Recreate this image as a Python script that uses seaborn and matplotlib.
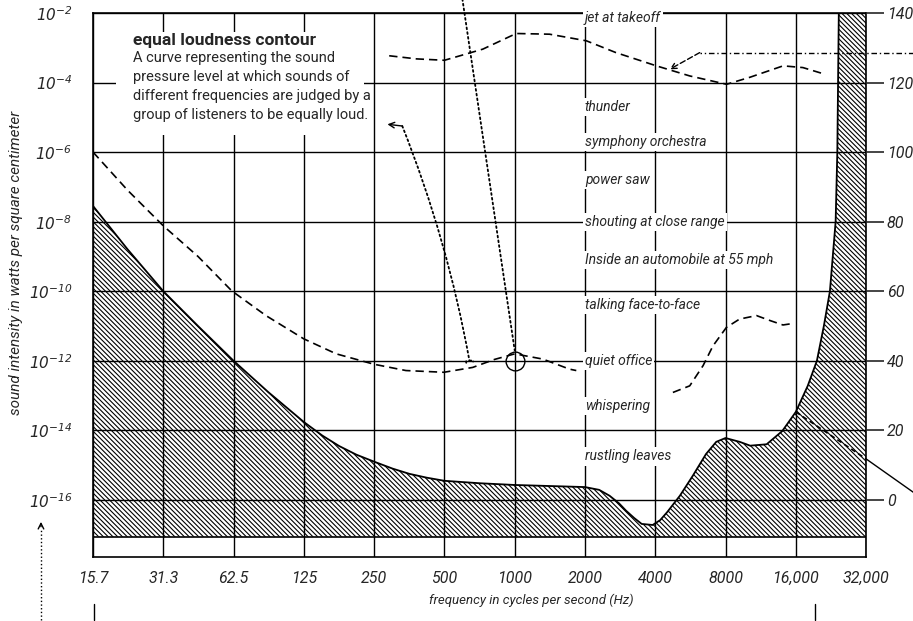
import numpy as np
import pandas as pd
import seaborn as sns
import matplotlib.pyplot as plt
from matplotlib.patches import Rectangle

# octave grid (Hz) and printed labels
octaves = [15.625, 31.25, 62.5, 125, 250, 500, 1000, 2000, 4000, 8000, 16000, 32000]
octave_labels = ["15.7", "31.3", "62.5", "125", "250", "500", "1000", "2000",
                 "4000", "8000", "16,000", "32,000"]

# sound pressure level (dB) on the right, intensity (W/cm2) on the left
db_ticks = [0, 20, 40, 60, 80, 100, 120, 140]
intensity_labels = [r"$10^{-16}$", r"$10^{-14}$", r"$10^{-12}$", r"$10^{-10}$",
                    r"$10^{-8}$", r"$10^{-6}$", r"$10^{-4}$", r"$10^{-2}$"]
floor_db = -10.6

# threshold of hearing / pain boundary (hatched region)
thr_freq = [15.625, 22, 31.25, 44, 62.5, 88, 125, 150, 177, 210, 250, 300, 354,
            420, 500, 707, 1000, 1414, 2000, 2300, 2550, 2800, 3000, 3250, 3500,
            3900, 4200, 4500, 5100, 5800, 6600, 7300, 8000, 9200, 10200, 12000,
            14000, 16000, 18000, 19700, 21100, 22400, 23700, 24100, 24500, 32000]
thr_db = [84.5, 72, 60, 50, 40, 31, 22.4, 18.5, 15.5, 13, 11, 9, 7.5,
          6.4, 5.5, 4.8, 4.3, 4.0, 3.7, 2.9, 1.2, -1, -3.1, -5.2, -6.9,
          -7.2, -5.8, -3.5, 1.2, 7, 13.2, 16.7, 17.8, 16.7, 15.6, 16,
          19.8, 25.3, 32.8, 40, 50, 60, 80, 100, 145, 145]

# 40 phon equal loudness contour (two dashed pieces)
c40a_freq = [15.625, 22, 31.25, 44, 61.4, 86, 125, 172, 250, 342, 497, 661,
             820, 1000, 1319, 1718, 1836]
c40a_db = [100, 89, 78.8, 70, 60.1, 53, 46.3, 42, 39, 37.2, 36.7, 38.1,
           40.4, 42, 40.5, 37.6, 37.2]
c40b_freq = [4760, 5620, 6410, 7070, 8070, 9190, 10860, 12500, 14100, 15800]
c40b_db = [30.9, 32.8, 38.6, 44.3, 49.6, 52, 53, 51.5, 50.3, 50.8]

# 120 phon contour
c120_freq = [290, 380, 500, 730, 1015, 1410, 2028, 2716, 4045, 5620, 8080,
             10160, 14120, 17170, 21280]
c120_db = [127.7, 126.8, 126.4, 129.6, 134.1, 133.9, 132, 128.6, 124.8, 121.9,
           119.5, 121.5, 124.8, 124.3, 122.4]

# everyday sounds, written down the 2000 Hz line
sound_names = ["jet at takeoff", "thunder", "symphony orchestra", "power saw",
               "shouting at close range", "Inside an automobile at 55 mph",
               "talking face-to-face", "quiet office", "whispering",
               "rustling leaves"]
sound_db = [138.5, 113, 103, 92, 80, 69, 56, 40, 27, 12.5]

sns.set_style("white")
plt.rcParams["font.family"] = ["Roboto", "DejaVu Sans"]
plt.rcParams["font.style"] = "italic"
plt.rcParams["mathtext.default"] = "it"
plt.rcParams["hatch.linewidth"] = 0.8

fig = plt.figure(figsize=(9.13, 6.21), dpi=100)
ax = fig.add_axes([0.1019, 0.1031, 0.8467, 0.876])
ax.set_xscale("log", base=2)

ax.fill_between(thr_freq, thr_db, floor_db, facecolor="white",
                edgecolor="black", hatch="\\\\\\\\\\\\\\", linewidth=0, zorder=1)
sns.lineplot(x=thr_freq, y=thr_db, ax=ax, color="black", lw=1.3,
             estimator=None, sort=False, zorder=3)
for fx, fy in [(c40a_freq, c40a_db), (c40b_freq, c40b_db), (c120_freq, c120_db)]:
    sns.lineplot(x=fx, y=fy, ax=ax, color="black", lw=1.2, linestyle=(0, (5, 3)),
                 estimator=None, sort=False, zorder=3)

ax.set_xlim(15.625, 32000)
ax.set_ylim(-16.4, 140)
ax.set_xticks(octaves)
ax.set_xticklabels(octave_labels, fontsize=11.5)
ax.minorticks_off()
ax.set_yticks(db_ticks)
ax.set_yticklabels(intensity_labels, fontsize=11)
ax.tick_params(axis="both", length=0)
ax.tick_params(axis="y", pad=15)
ax.tick_params(axis="x", pad=10)
ax.grid(True, color="black", lw=1)
ax.set_axisbelow(False)
ax.axhline(floor_db, color="black", lw=1.2, zorder=2.5)
for s in ax.spines.values():
    s.set_color("black")
    s.set_linewidth(1.2)

ax2 = ax.twinx()
ax2.set_ylim(ax.get_ylim())
ax2.set_yticks(db_ticks)
ax2.set_yticklabels([str(v) for v in db_ticks], fontsize=11.5)
ax2.tick_params(axis="y", direction="out", length=13, width=1.2, pad=2)
for s in ax2.spines.values():
    s.set_visible(False)

# description box
ax.add_patch(Rectangle((0.03, 0.775), 0.32, 0.19, transform=ax.transAxes,
                       facecolor="white", edgecolor="none", zorder=2.6))
ax.text(0.0517, 0.950, "equal loudness contour", transform=ax.transAxes,
        fontsize=12.5, fontweight="bold", fontstyle="normal", va="center", zorder=4)
ax.text(0.0517, 0.930, "A curve representing the sound\n"
        "pressure level at which sounds of\n"
        "different frequencies are judged by a\n"
        "group of listeners to be equally loud.",
        transform=ax.transAxes, fontsize=10.5, fontstyle="normal", va="top",
        linespacing=1.45, zorder=4)

for name, lvl in zip(sound_names, sound_db):
    ax.text(2000, lvl, name, ha="left", va="center", fontsize=10, zorder=4,
            bbox=dict(boxstyle="square,pad=0.15", facecolor="white",
                      edgecolor="none"))

# circle at 1000 Hz / 40 dB
ax.plot([1000], [40], marker="o", ms=13.5, mfc="none", mec="black", mew=1,
        zorder=5)
ax.annotate("", xy=(1000, 43), xytext=(597, 144), annotation_clip=False,
            arrowprops=dict(arrowstyle="-", linestyle=":", lw=1.3,
                            color="black", shrinkA=0, shrinkB=0))
ax.annotate("", xy=(640, 40), xytext=(330, 107.5), annotation_clip=False,
            arrowprops=dict(arrowstyle="-[, widthB=0.25, lengthB=0.1",
                            linestyle=":", lw=1.3, color="black",
                            connectionstyle="arc3,rad=-0.05",
                            shrinkA=0, shrinkB=0))
ax.annotate("", xy=(285, 108), xytext=(330, 107.5), annotation_clip=False,
            arrowprops=dict(arrowstyle="->", lw=1, color="black",
                            shrinkA=0, shrinkB=0))

# pointer to the 120 phon curve
ax.plot([52000, 6200], [128.6, 128.6], color="black", lw=1,
        linestyle=(0, (4, 2, 1, 2)), clip_on=False, zorder=5)
ax.annotate("", xy=(4610, 123.8), xytext=(6200, 128.6), annotation_clip=False,
            arrowprops=dict(arrowstyle="->", lw=1, color="black",
                            linestyle=(0, (4, 2)), shrinkA=0, shrinkB=0))

# pointer from the threshold at 16 kHz
ax.plot([16000, 32000], [25.3, 11.8], color="black", lw=1.2,
        linestyle=(0, (3, 2)), zorder=5)
ax.plot([32000, 52000], [11.8, 1.8], color="black", lw=1, clip_on=False)

# marks below the chart
ax.plot([9.35, 9.35], [-34.5, -8], color="black", lw=1, linestyle=":",
        clip_on=False)
ax.annotate("", xy=(9.35, -5.5), xytext=(9.35, -8.5), annotation_clip=False,
            arrowprops=dict(arrowstyle="->", lw=1, color="black"))
for xm in [15.78, 19300]:
    ax.plot([xm, xm], [-29.9, -34.5], color="black", lw=1, clip_on=False)

fig.text(531 / 913, 1 - 600 / 621, "frequency in cycles per second (Hz)",
         ha="center", va="center", fontsize=9.5)
fig.text(16 / 913, 1 - 263 / 621, "sound intensity in watts per square centimeter",
         ha="center", va="center", rotation=90, fontsize=11)

fig.savefig("out.png", dpi=100)
